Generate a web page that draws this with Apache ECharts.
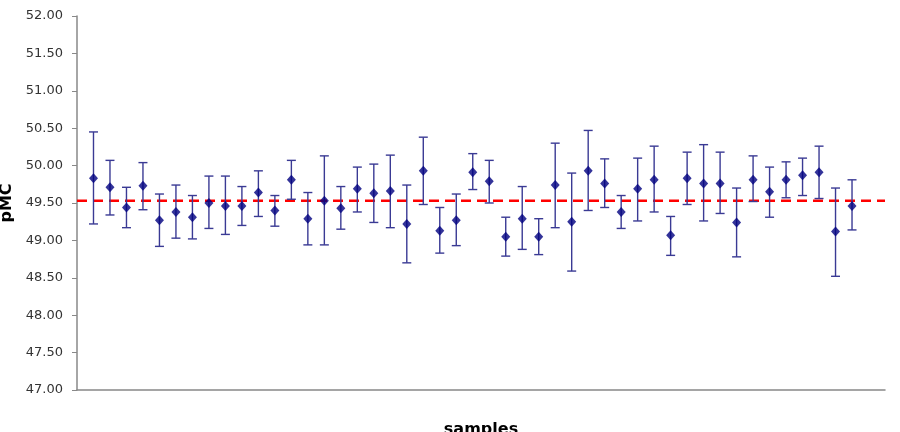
<!DOCTYPE html>
<html>
<head>
<meta charset="utf-8">
<script src="https://cdn.jsdelivr.net/npm/echarts@6/dist/echarts.min.js"></script>
<style>
  html, body { margin: 0; padding: 0; background: #fff; }
  #chart { width: 900px; height: 432px; }
</style>
</head>
<body>
<div id="chart"></div>
<script>
// pMC per sample, with error bar limits
const pmc = [49.83, 49.71, 49.44, 49.73, 49.27, 49.38, 49.31, 49.50, 49.46, 49.46, 49.64, 49.40,
             49.81, 49.29, 49.53, 49.43, 49.69, 49.63, 49.66, 49.22, 49.93, 49.13, 49.27, 49.91,
             49.79, 49.05, 49.29, 49.05, 49.74, 49.25, 49.93, 49.76, 49.38, 49.69, 49.81, 49.07,
             49.83, 49.76, 49.76, 49.24, 49.81, 49.65, 49.81, 49.87, 49.91, 49.12, 49.46]
const upper = [50.45, 50.07, 49.71, 50.04, 49.62, 49.74, 49.60, 49.86, 49.86, 49.72, 49.93, 49.60,
               50.07, 49.64, 50.13, 49.72, 49.98, 50.02, 50.14, 49.74, 50.38, 49.44, 49.62, 50.16,
               50.07, 49.31, 49.72, 49.29, 50.30, 49.90, 50.47, 50.09, 49.60, 50.10, 50.26, 49.32,
               50.18, 50.28, 50.18, 49.70, 50.13, 49.98, 50.05, 50.10, 50.26, 49.70, 49.81]
const lower = [49.22, 49.34, 49.17, 49.41, 48.92, 49.03, 49.02, 49.16, 49.08, 49.20, 49.32, 49.19,
               49.55, 48.94, 48.94, 49.15, 49.38, 49.24, 49.17, 48.70, 49.48, 48.83, 48.93, 49.68,
               49.50, 48.79, 48.88, 48.81, 49.17, 48.59, 49.40, 49.44, 49.16, 49.26, 49.38, 48.80,
               49.48, 49.26, 49.36, 48.78, 49.52, 49.31, 49.57, 49.60, 49.56, 48.52, 49.14]
const meanPmc = 49.53
const xRange = [0, 49]
const yTicks = { min: 47, max: 52, step: 0.5 }

const samples = pmc.map((_, i) => i + 1)
const points = pmc.map((v, i) => [samples[i], v])
const bars = pmc.map((_, i) => [samples[i], lower[i], upper[i]])

const chart = echarts.init(document.getElementById('chart'), null, { renderer: 'canvas' })

const axisFont = 'DejaVu Sans, sans-serif'
const navy = '#000080'

chart.setOption({
  backgroundColor: '#fff',
  animation: false,
  grid: { left: 77, right: 15, top: 16, bottom: 42, outerBoundsMode: 'none' },
  xAxis: {
    type: 'value', min: xRange[0], max: xRange[1],
    name: 'samples', nameLocation: 'middle', nameGap: 32,
    nameTextStyle: { fontFamily: axisFont, fontWeight: 'bold', fontSize: 16, color: '#000' },
    axisLine: { show: true, lineStyle: { color: '#888', width: 1.5 } },
    axisTick: { show: false },
    axisLabel: { show: false },
    splitLine: { show: false },
  },
  yAxis: {
    type: 'value', min: yTicks.min, max: yTicks.max, interval: yTicks.step,
    name: 'pMC', nameLocation: 'middle', nameGap: 62, nameRotate: 90,
    nameTextStyle: { fontFamily: axisFont, fontWeight: 'bold', fontSize: 16, color: '#000' },
    axisLine: { show: true, lineStyle: { color: '#888', width: 1.5 } },
    axisTick: { show: true, inside: false, length: 5, lineStyle: { color: '#888' } },
    axisLabel: {
      margin: 14, fontFamily: axisFont, fontSize: 13, color: '#333',
      formatter: (v) => v.toFixed(2),
    },
    splitLine: { show: false },
  },
  series: [
    {
      // mean line
      type: 'line', data: [[xRange[0], meanPmc], [xRange[1], meanPmc]],
      showSymbol: false, symbol: 'none', z: 1,
      lineStyle: { color: '#ff0000', width: 2.5, type: [10, 6] },
      silent: true,
    },
    {
      type: 'custom', data: bars, z: 2,
      renderItem: (params, api) => {
        const x = api.value(0)
        const lo = api.coord([x, api.value(1)])
        const hi = api.coord([x, api.value(2)])
        const cap = 4.5
        const style = { stroke: '#3a3a94', lineWidth: 1.4, fill: null }
        return {
          type: 'group',
          children: [
            { type: 'line', shape: { x1: lo[0], y1: lo[1], x2: hi[0], y2: hi[1] }, style },
            { type: 'line', shape: { x1: hi[0] - cap, y1: hi[1], x2: hi[0] + cap, y2: hi[1] }, style },
            { type: 'line', shape: { x1: lo[0] - cap, y1: lo[1], x2: lo[0] + cap, y2: lo[1] }, style },
          ],
        }
      },
    },
    {
      type: 'scatter', data: points, z: 3,
      symbol: 'diamond', symbolSize: [9, 10],
      itemStyle: { color: navy },
    },
  ],
})
</script>
</body>
</html>
